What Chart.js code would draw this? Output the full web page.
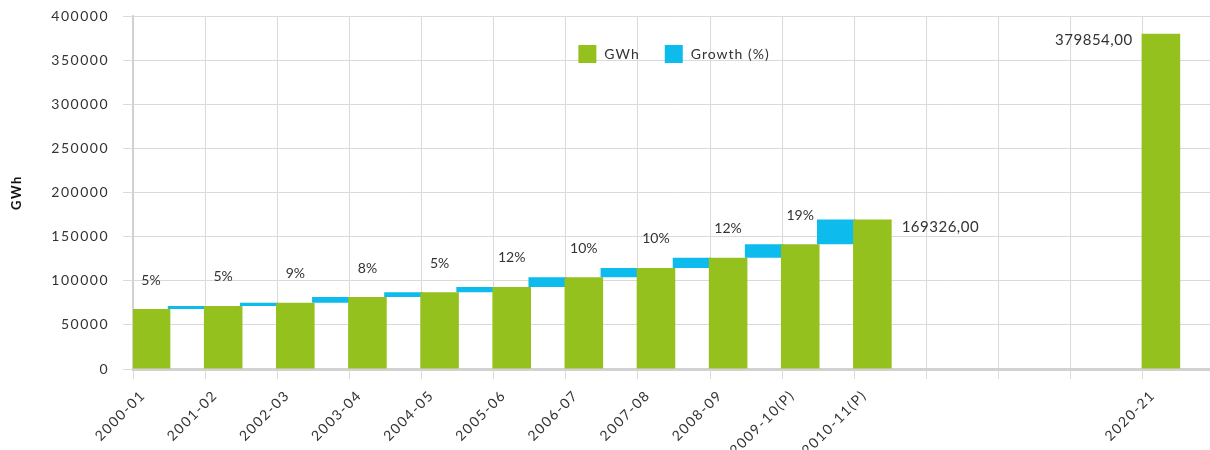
<!DOCTYPE html>
<html>
<head>
<meta charset="utf-8">
<script src="https://cdn.jsdelivr.net/npm/chart.js@4.4.1/dist/chart.umd.min.js"></script>
<style>
    html, body { margin: 0; padding: 0; background: #fff; overflow: hidden; }
    #wrap { width: 1215px; height: 450px; position: relative; }
</style>
</head>
<body>
<div id="wrap"><canvas id="gwhChart"></canvas></div>
<script>
/* GWh per year with growth steps between the years */
var categories = ['2000-01', '2001-02', '2002-03', '2003-04', '2004-05', '2005-06', '2006-07',
    '2007-08', '2008-09', '2009-10(P)', '2010-11(P)', '', '', '', '2020-21'];
var tickLabels = categories.concat(['']);
var gwhValues = [68000, 71500, 75000, 81500, 87000, 93000, 104000, 114500, 126000, 141500, 169326, null, null, null, 379854];
var growthFrom = [68000, 71500, 75000, 81500, 87000, 93000, 104000, 114500, 126000, 141500];
var growthTo = [71500, 75000, 81500, 87000, 93000, 104000, 114500, 126000, 141500, 169326];
var growthLabels = ['5%', '5%', '9%', '8%', '5%', '12%', '10%', '10%', '12%', '19%'];
var yMax = 400000;
var yStep = 50000;

var GREEN = '#95C11F';
var BLUE = '#0DBBEC';
var TEXT = '#333333';
var FONT = 'Lato, sans-serif';
var TRACKING = '1.5px';

var growthData = categories.map(function (c, i) {
    return i < growthFrom.length ? [growthFrom[i], growthTo[i]] : null;
});

function fmtValue(v) {
    return v.toFixed(2).replace('.', ',');
}

// the original font is widely tracked, so widen the axis text a bit
var tracking = {
    id: 'tracking',
    beforeUpdate: function (chart) { chart.ctx.letterSpacing = TRACKING; },
    beforeDraw: function (chart) { chart.ctx.letterSpacing = TRACKING; }
};

/* labels over the bars + legend inside the plot */
var barLabels = {
    id: 'barLabels',
    afterDatasetsDraw: function (chart) {
        var ctx = chart.ctx;
        var bars = chart.getDatasetMeta(0).data;
        ctx.save();
        ctx.fillStyle = TEXT;
        ctx.textBaseline = 'middle';

        ctx.letterSpacing = '0px';
        ctx.font = '14px ' + FONT;
        ctx.textAlign = 'center';
        growthLabels.forEach(function (t, i) {
            var b = bars[i];
            ctx.fillText(t, b.x, b.y - 29);
        });

        ctx.letterSpacing = '0.5px';
        ctx.font = '15px ' + FONT;
        var b1 = bars[10];
        ctx.textAlign = 'left';
        ctx.fillText(fmtValue(gwhValues[10]), b1.x + b1.width / 2 + 10, b1.y + 8);
        var b2 = bars[14];
        ctx.textAlign = 'right';
        ctx.fillText(fmtValue(gwhValues[14]), b2.x - b2.width / 2 - 9, b2.y + 6);

        // legend
        var area = chart.chartArea;
        var box = 18, gap = 8, spacing = 25;
        ctx.letterSpacing = '1px';
        ctx.font = '14px ' + FONT;
        var items = chart.data.datasets.map(function (ds) {
            return { text: ds.label, color: ds.backgroundColor, w: box + gap + ctx.measureText(ds.label).width };
        });
        var total = items.reduce(function (s, it) { return s + it.w; }, 0) + spacing * (items.length - 1);
        var x = (area.left + area.right) / 2 - total / 2;
        var top = 45;
        ctx.textAlign = 'left';
        items.forEach(function (it) {
            ctx.fillStyle = it.color;
            ctx.fillRect(x, top, box, box);
            ctx.fillStyle = TEXT;
            ctx.fillText(it.text, x + box + gap, top + box / 2);
            x += it.w + spacing;
        });
        ctx.restore();
    }
};

new Chart(document.getElementById('gwhChart'), {
    type: 'bar',
    data: {
        labels: categories,
        datasets: [
            {
                label: 'GWh',
                data: gwhValues,
                backgroundColor: GREEN,
                xAxisID: 'xb',
                categoryPercentage: 1,
                barPercentage: 1.07
            },
            {
                label: 'Growth (%)',
                data: growthData,
                backgroundColor: BLUE,
                xAxisID: 'xb',
                categoryPercentage: 1,
                barPercentage: 1.07
            }
        ]
    },
    plugins: [tracking, barLabels],
    options: {
        responsive: true,
        maintainAspectRatio: false,
        animation: false,
        layout: { padding: { top: 16, right: 0, left: 0, bottom: 0 } },
        plugins: {
            legend: { display: false },
            tooltip: { enabled: false }
        },
        scales: {
            xb: {
                type: 'category',
                display: false,
                offset: true
            },
            x: {
                type: 'category',
                labels: tickLabels,
                offset: false,
                grid: { offset: false, color: '#dadada', lineWidth: 1, tickLength: 10 },
                border: { color: '#d2d2d2', width: 3 },
                ticks: {
                    color: TEXT,
                    font: { family: FONT, size: 14 },
                    minRotation: 45,
                    maxRotation: 45,
                    autoSkip: false,
                    padding: 8,
                    labelOffset: 10
                },
                afterFit: function (s) {
                    s.height = 81;
                    s.paddingLeft = 0;
                    s.paddingRight = 0;
                }
            },
            y: {
                min: 0,
                max: yMax,
                grid: { color: '#dadada', lineWidth: 1, tickLength: 10 },
                border: { color: '#d2d2d2', width: 2 },
                ticks: {
                    stepSize: yStep,
                    color: TEXT,
                    padding: 14,
                    font: { family: FONT, size: 14 },
                    callback: function (v) { return String(v); }
                },
                title: {
                    display: true,
                    text: 'GWh',
                    color: '#111',
                    font: { family: FONT, size: 13, weight: 'bold' },
                    padding: { top: 9, bottom: 0 }
                },
                afterFit: function (s) {
                    s.width = 133;
                    s.paddingTop = 0;
                    s.paddingBottom = 0;
                }
            }
        }
    }
});
</script>
</body>
</html>
